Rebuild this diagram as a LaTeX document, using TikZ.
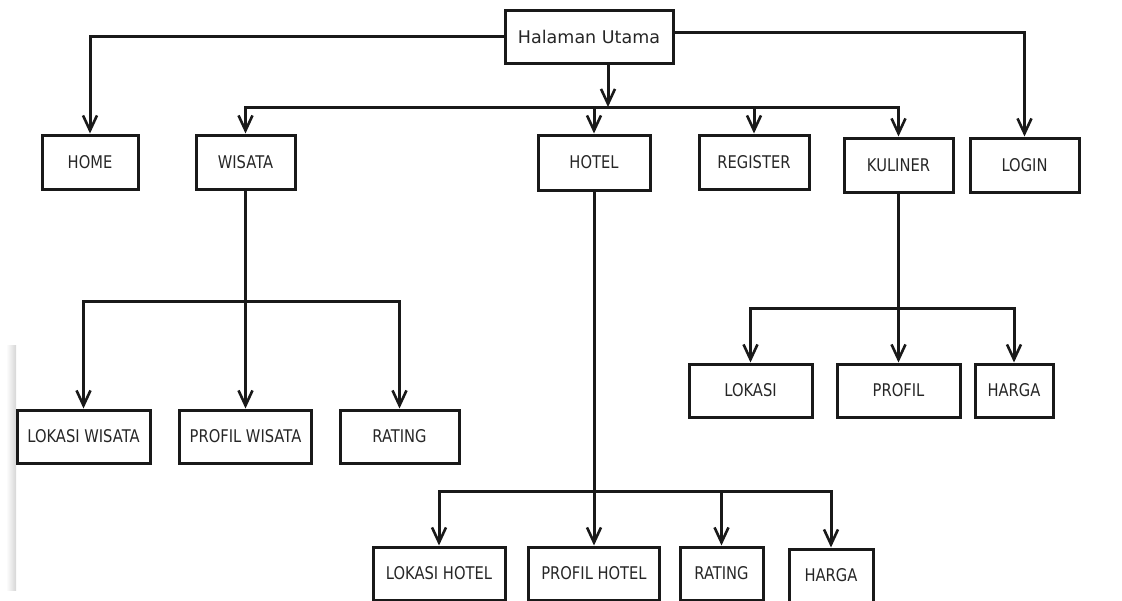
\documentclass[tikz,border=0pt]{standalone}
\usepackage{fontspec}
\setmainfont{DejaVu Sans}
\newfontfamily\capsfont[FakeStretch=0.84]{DejaVu Sans}
\usetikzlibrary{arrows.meta}
\tikzset{
  box/.style={draw=black!90, line width=3pt, minimum height=53pt, inner sep=0pt,
    font=\capsfont\fontsize{17.5}{20}\selectfont, text=black!85},
  conn/.style={line width=3pt, draw=black!90},
  arr/.style={conn, -{Straight Barb[length=15pt,width=14pt,line width=2.6pt]}},
}
\begin{document}
\begin{tikzpicture}[x=1pt,y=-1pt]
\useasboundingbox (0,0) rectangle (1122,600);
\clip (0,0) rectangle (1122,600);
\shade[left color=white, right color=black!16] (6,345) rectangle (16,590);
% nodes
\node[box, minimum width=168pt, font=\fontsize{17.5}{20}\selectfont] (main) at (589,36.5) {Halaman Utama};
\node[box, minimum width=96pt, minimum height=54pt] (home) at (90,162) {HOME};
\node[box, minimum width=99pt, minimum height=54pt] (wisata) at (245.5,162) {WISATA};
\node[box, minimum width=112pt, minimum height=55pt] (hotel) at (594,162.5) {HOTEL};
\node[box, minimum width=110pt, minimum height=54pt] (register) at (754,162) {REGISTER};
\node[box, minimum width=109pt, minimum height=54pt] (kuliner) at (898.5,165) {KULINER};
\node[box, minimum width=109pt, minimum height=54pt] (login) at (1024.5,165) {LOGIN};
\node[box, minimum width=133pt] (lw) at (83.5,436.5) {LOKASI WISATA};
\node[box, minimum width=132pt] (pw) at (245.5,436.5) {PROFIL WISATA};
\node[box, minimum width=119pt] (rw) at (399.5,436.5) {RATING};
\node[box, minimum width=123pt] (lk) at (750.5,390.5) {LOKASI};
\node[box, minimum width=123pt] (pk) at (898.5,390.5) {PROFIL};
\node[box, minimum width=78pt] (hk) at (1014,390.5) {HARGA};
\node[box, minimum width=132pt] (lh) at (439,573.5) {LOKASI HOTEL};
\node[box, minimum width=131pt] (ph) at (594,573.5) {PROFIL HOTEL};
\node[box, minimum width=83pt] (rh) at (721.5,573.5) {RATING};
\node[box, minimum width=84pt] (hh) at (831,575.5) {HARGA};
% junctions
\coordinate (mb) at (608,107);
\coordinate (wb) at (245.5,301);
\coordinate (kb) at (898.5,308);
\coordinate (hb) at (594,491);
% connectors from main
\draw[arr] (main.west) -| (home.north);
\draw[arr] ([yshift=4pt]main.east) -| (login.north);
\draw[arr] (main.south -| mb) -- (mb);
\draw[arr] (mb) -| (wisata.north);
\draw[arr] (mb) -| (kuliner.north);
\draw[arr] (hotel.north |- mb) -- (hotel.north);
\draw[arr] (register.north |- mb) -- (register.north);
% wisata
\draw[arr] (wisata.south) -- (pw.north);
\draw[arr] (wb) -| (lw.north);
\draw[arr] (wb) -| (rw.north);
% kuliner
\draw[arr] (kuliner.south) -- (pk.north);
\draw[arr] (kb) -| (lk.north);
\draw[arr] (kb) -| (hk.north);
% hotel
\draw[arr] (hotel.south) -- (ph.north);
\draw[arr] (hb) -| (lh.north);
\draw[arr] (hb) -| (hh.north);
\draw[arr] (rh.north |- hb) -- (rh.north);
\end{tikzpicture}
\end{document}
